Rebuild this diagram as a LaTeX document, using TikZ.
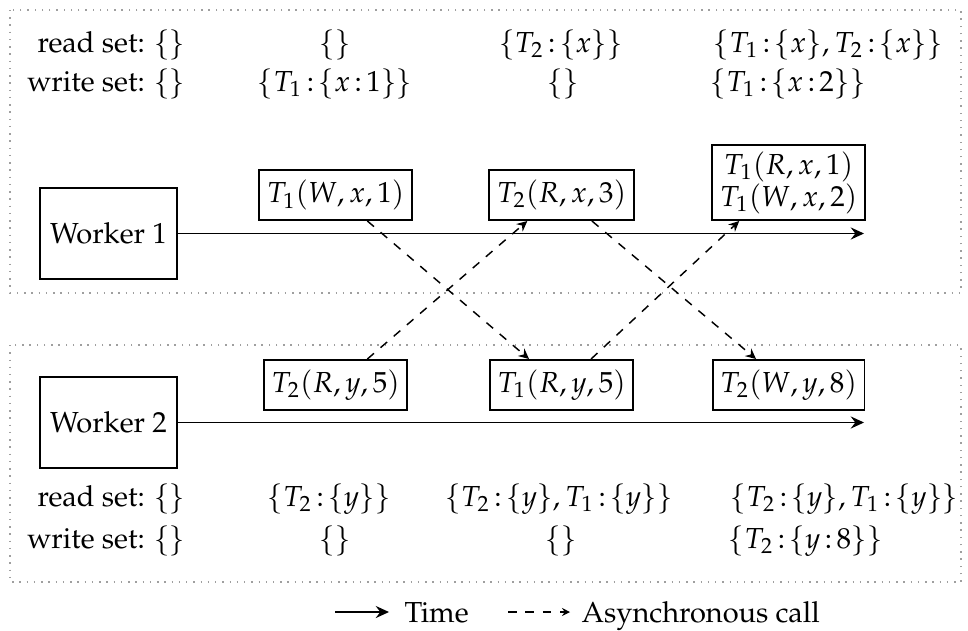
\documentclass[tikz,border=0pt]{standalone}
\usepackage[T1]{fontenc}
\usepackage{mathpazo}
\usetikzlibrary{arrows.meta,calc}
\tikzset{
  region/.style={draw=gray!75, dotted, line width=0.5pt},
  worker/.style={draw, line width=0.6pt, minimum width=47.3pt, minimum height=31.4pt, inner sep=0pt},
  opbox/.style={draw, line width=0.6pt, inner xsep=2.6pt, inner ysep=2.2pt, minimum height=17.3pt, align=center},
  settext/.style={inner sep=0pt, execute at begin node={\thickmuskip=2.5mu}},
  timeline/.style={line width=0.5pt, -{Stealth[length=4.6pt,width=4.2pt,inset=1.6pt]}},
  async/.style={line width=0.5pt, dashed, -{Stealth[length=3.6pt,width=3.4pt,inset=1.2pt]}},
}
\begin{document}
\begin{tikzpicture}[x=0.345pt,y=-0.345pt]
\useasboundingbox (0,0) rectangle (968,630);
% regions
\draw[region] (10,10) rectangle (961,293);
\draw[region] (10,345) rectangle (961,582);
% workers
\node[worker] (w1) at (108.5,233.5) {Worker 1};
\node[worker] (w2) at (108.5,422.5) {Worker 2};
\coordinate (e1) at (864,233.5);
\coordinate (e2) at (864,422.5);
\draw[timeline] (w1.east) -- (e1);
\draw[timeline] (w2.east) -- (e2);
% operations
\node[opbox, anchor=south] (A) at (335.5,221) {$T_1(W,x,1)$};
\node[opbox, anchor=south] (B) at (561.5,221) {$T_2(R,x,3)$};
\node[opbox, anchor=south] (C) at (788.5,221) {$T_1(R,x,1)$\\[-1pt]$T_1(W,x,2)$};
\node[opbox, anchor=north] (D) at (335.5,359) {$T_2(R,y,5)$};
\node[opbox, anchor=north] (E) at (561.5,359) {$T_1(R,y,5)$};
\node[opbox, anchor=north] (F) at (788.5,359) {$T_2(W,y,8)$};
% asynchronous calls
\draw[async] ([xshift=11pt]A.south) -- ([xshift=-11.2pt]E.north);
\draw[async] ([xshift=11pt]D.north) -- ([xshift=-11.8pt]B.south);
\draw[async] ([xshift=10.5pt]B.south) -- ([xshift=-11.2pt]F.north);
\draw[async] ([xshift=10.2pt]E.north) -- ([xshift=-17pt]C.south);
% top sets
\node[settext, anchor=base east] (r1a) at (186,52) {read set: $\{\}$};
\node[settext, anchor=base] (r1b) at (335,52) {$\{\}$};
\node[settext, anchor=base] (r1c) at (561,52) {$\{T_2:\{x\}\}$};
\node[settext, anchor=base west] (r1d) at (713,52) {$\{T_1:\{x\},T_2:\{x\}\}$};
\node[settext, anchor=base east] (w1a) at (186,91) {write set: $\{\}$};
\node[settext, anchor=base] (w1b) at (335,91) {$\{T_1:\{x:1\}\}$};
\node[settext, anchor=base] (w1c) at (563,91) {$\{\}$};
\node[settext, anchor=base west] (w1d) at (710,91) {$\{T_1:\{x:2\}\}$};
% bottom sets
\node[settext, anchor=base east] (r2a) at (186,506) {read set: $\{\}$};
\node[settext, anchor=base] (r2b) at (329,506) {$\{T_2:\{y\}\}$};
\node[settext, anchor=base] (r2c) at (559,506) {$\{T_2:\{y\},T_1:\{y\}\}$};
\node[settext, anchor=base west] (r2d) at (730,506) {$\{T_2:\{y\},T_1:\{y\}\}$};
\node[settext, anchor=base east] (w2a) at (186,548) {write set: $\{\}$};
\node[settext, anchor=base] (w2b) at (335,548) {$\{\}$};
\node[settext, anchor=base] (w2c) at (561,548) {$\{\}$};
\node[settext, anchor=base west] (w2d) at (728,548) {$\{T_2:\{y:8\}\}$};
% legend
\coordinate (l1s) at (335,612);
\coordinate (l1e) at (389,612);
\draw[timeline] (l1s) -- (l1e);
\node[settext, anchor=base west] (lt) at (404,622) {Time};
\coordinate (l2s) at (508,612);
\coordinate (l2e) at (570,612);
\draw[line width=0.4pt, dashed, -{Stealth[length=2.8pt,width=2.8pt,inset=1pt]}] (l2s) -- (l2e);
\node[settext, anchor=base west] (la) at (581,622) {Asynchronous call};
\end{tikzpicture}
\end{document}
